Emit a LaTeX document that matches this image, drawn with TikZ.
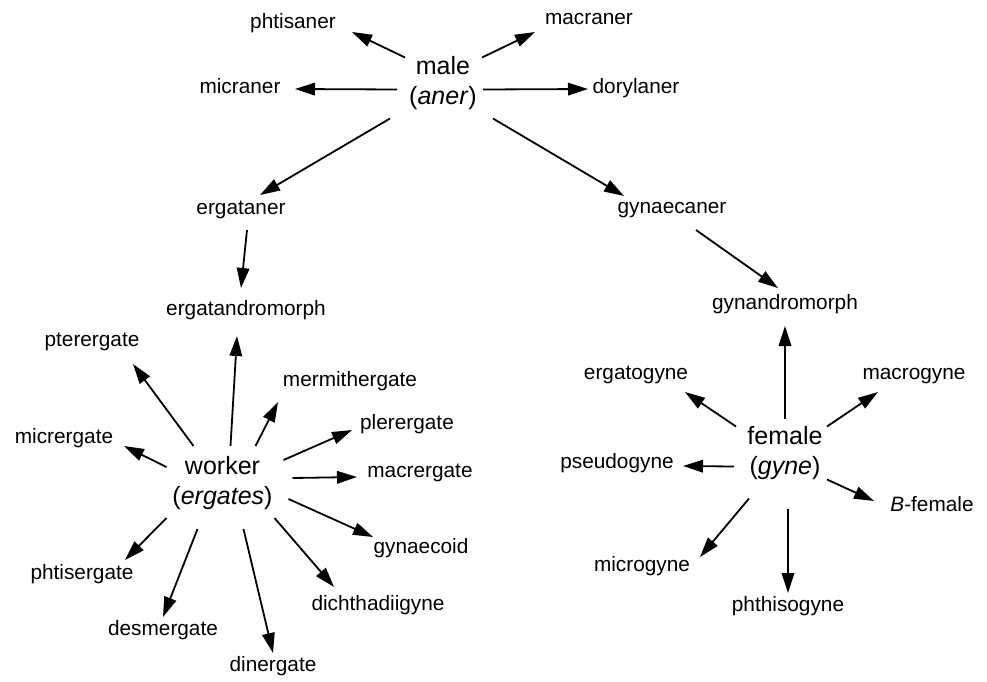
\documentclass[tikz,border=0pt]{standalone}
\usepackage{fontspec}
\setmainfont{Liberation Sans}
\usetikzlibrary{arrows.meta,calc}

% connector from an offset point near one node to an offset point near another
\newcommand\link[4]{\draw[arr] ($(#1)+(#2)$) -- ($(#3)+(#4)$);}

\begin{document}
\begin{tikzpicture}[x=1pt,y=-1pt,
  lbl/.style={inner sep=0pt,font=\fontsize{20.8}{25}\selectfont,
              text height=0.72em,text depth=0.21em},
  hub/.style={inner sep=0pt,align=center,font=\fontsize{25}{30}\selectfont},
  arr/.style={line width=1.8pt,-{Triangle[length=20pt,width=12.5pt]}}]
\useasboundingbox[fill=white] (0,0) rectangle (987,681);

% caste hubs
\node[hub] (male)   at (443,83.5) {male\\(\textit{aner})};
\node[hub] (worker) at (222.5,483) {worker\\(\textit{ergates})};
\node[hub] (female) at (785,453.5) {female\\(\textit{gyne})};

% male forms
\node[lbl] (phtisaner) at (293,26) {phtisaner};
\node[lbl] (macraner)  at (589,22) {macraner};
\node[lbl] (micraner)  at (240,91) {micraner};
\node[lbl] (dorylaner) at (636,91) {dorylaner};
\node[lbl] (ergataner) at (241,212) {ergataner};
\node[lbl] (gynaecaner) at (672,211) {gynaecaner};
\node[lbl] (ergatandromorph) at (246,313) {ergatandromorph};
\node[lbl] (gynandromorph) at (785,307) {gynandromorph};

% worker forms
\node[lbl] (pterergate)     at (92,344) {pterergate};
\node[lbl] (mermithergate)  at (350,384) {mermithergate};
\node[lbl] (plerergate)     at (407,427) {plerergate};
\node[lbl] (micrergate)     at (64,441) {micrergate};
\node[lbl] (macrergate)     at (420,474.5) {macrergate};
\node[lbl] (gynaecoid)      at (421,551) {gynaecoid};
\node[lbl] (phtisergate)    at (82,577) {phtisergate};
\node[lbl] (dichthadiigyne) at (378,607.5) {dichthadiigyne};
\node[lbl] (desmergate)     at (163,633) {desmergate};
\node[lbl] (dinergate)      at (273,669) {dinergate};

% female forms
\node[lbl] (ergatogyne)  at (636,377) {ergatogyne};
\node[lbl] (macrogyne)   at (914,377) {macrogyne};
\node[lbl] (pseudogyne)  at (617,466) {pseudogyne};
\node[lbl] (bfemale)     at (932,509) {\textit{B}-female};
\node[lbl] (microgyne)   at (642,569) {microgyne};
\node[lbl] (phthisogyne) at (788,609) {phthisogyne};

% arrows from male
\link{male}{-38,-26}{phtisaner}{59,6}
\link{male}{39,-26}{macraner}{-54,10}
\link{male}{-46,6}{micraner}{55,-2}
\link{male}{40,6}{dorylaner}{-48,-2}
\link{male}{-53,35}{ergataner}{19,-17}
\link{male}{50,35}{gynaecaner}{-48,-15}
\link{ergataner}{6,18}{ergatandromorph}{-5,-25}
\link{gynaecaner}{24,19}{gynandromorph}{-7,-19}

% arrows from worker
\link{worker}{-29,-37}{pterergate}{41,20}
\link{worker}{8,-37}{ergatandromorph}{-9,23}
\link{worker}{33,-37}{mermithergate}{-72,18}
\link{worker}{61,-23}{plerergate}{-55,3}
\link{worker}{-56,-16}{micrergate}{60,5}
\link{worker}{70,-5}{macrergate}{-63,2.5}
\link{worker}{66,16}{gynaecoid}{-48,-14}
\link{worker}{52,35}{dichthadiigyne}{-44,-20.5}
\link{worker}{21,46}{dinergate}{0,-16}
\link{worker}{-25,46}{desmergate}{0,-16}
\link{worker}{-56,35}{phtisergate}{43,-17}

% arrows from female
\link{female}{-49,-27}{ergatogyne}{49,15}
\link{female}{0,-35}{gynandromorph}{0,19}
\link{female}{42,-27}{macrogyne}{-36,15}
\link{female}{-51,13}{pseudogyne}{66,0}
\link{female}{42,26}{bfemale}{-58,-8}
\link{female}{-36,45}{microgyne}{58,-12}
\link{female}{3,55}{phthisogyne}{0,-16}
\end{tikzpicture}
\end{document}
